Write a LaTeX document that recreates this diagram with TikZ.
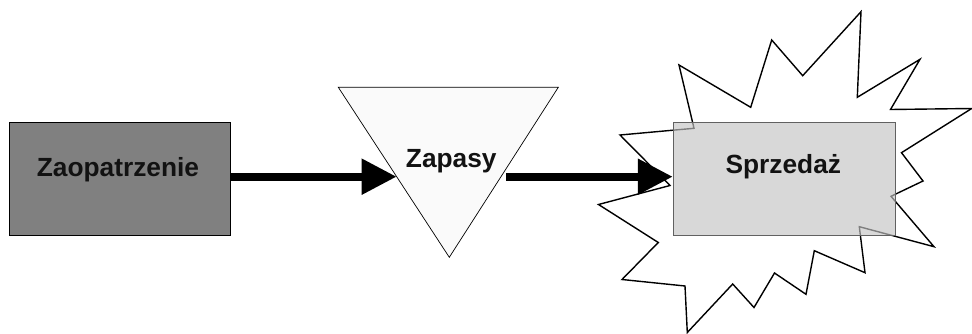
\documentclass[tikz,border=0pt]{standalone}
\usepackage{fontspec}
\setmainfont{Liberation Sans}
\usetikzlibrary{arrows.meta}
\begin{document}
\begin{tikzpicture}[x=1pt,y=-1pt,
  lbl/.style={font=\fontsize{26.3}{30}\selectfont\bfseries, text=black!93, anchor=base, inner sep=0},
  flow/.style={line width=8pt, -{Triangle[length=35pt,width=34pt]}},
  boxbase/.style={inner sep=0, anchor=north west, line width=0.9pt},
]
\useasboundingbox (0,0) rectangle (972,334);

% explosion outline behind the sales box
\draw[line width=1.4pt, line join=miter, fill=white]
  (861,11.7) -- (857.3,97.3) -- (920,59.3) -- (890.5,109.5) -- (971.7,108.5)
  -- (901.5,152.7) -- (923,181) -- (891,196.3) -- (934,246.7) -- (859.3,226.7)
  -- (865,272.7) -- (814.3,250.7) -- (806,294.3) -- (774.5,273) -- (754,307.5)
  -- (732.7,284) -- (687.3,332.5) -- (685,286) -- (622,279.5) -- (658.3,242.5)
  -- (598.5,204.5) -- (670,185.5) -- (620,135) -- (694,128.3) -- (679,65)
  -- (750.7,107.3) -- (771.7,40) -- (802.7,75.7) -- cycle;

% supply box
\node[boxbase, draw=black, fill=black!50, minimum width=220.5pt, minimum height=112.5pt]
  (zao) at (9.3,122.3) {};

% stock triangle
\draw[line width=0.7pt, fill=white!98!black] (338.3,87.3) -- (558.3,87.3) -- (449.3,257.3) -- cycle;

% sales box, partly see-through
\node[boxbase, draw=black!62, fill=black!23, fill opacity=0.65, draw opacity=1,
  minimum width=222pt, minimum height=113pt] (sprz) at (672.8,121.8) {};

% arrow ends on the triangle sides
\coordinate (tin) at (396.7,176.7);
\coordinate (tout) at (506,176.7);

\draw[flow] (zao.east |- tin) -- (tin);
\draw[flow] (tout) -- (sprz.west |- tout);

% labels
\node[lbl] (zaotext) at (118,176.7) {Zaopatrzenie};
\node[lbl] (zaptext) at (451.3,167.3) {Zapasy};
\node[lbl] (sprztext) at (783.3,174) {Sprzedaż};
\end{tikzpicture}
\end{document}
